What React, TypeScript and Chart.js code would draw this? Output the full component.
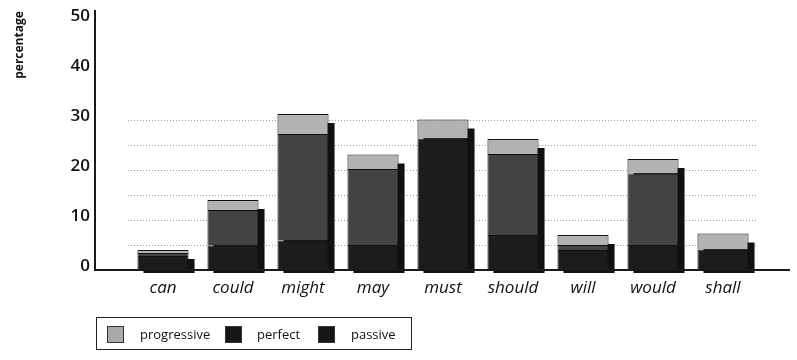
import React, { useEffect, useRef } from "react";
import { Chart, registerables } from "chart.js";

Chart.register(...registerables);

const categories = ["can", "could", "might", "may", "must", "should", "will", "would", "shall"];
const passive = [2.8, 4.9, 5.9, 5.0, 26.3, 7.0, 4.0, 5.0, 4.1];
const perfect = [0.6, 7.1, 21.3, 15.2, 0, 16.2, 1.0, 14.3, 0];
const progressive = [0.6, 2.0, 4.0, 2.9, 3.8, 3.0, 2.0, 2.9, 3.2];
const yTicks = [0, 10, 20, 30, 40, 50];
const gridSteps = [5, 10, 15, 20, 25, 30];
const yTitle = "percentage";

const colors = { progressive: "#b2b2b2", perfect: "#434343", passive: "#1c1c1c" };
const legendItems = [
  { label: "progressive", color: "#a9a9a9" },
  { label: "perfect", color: "#161616" },
  { label: "passive", color: "#161616" },
];

const FONT = "'Open Sans', 'DejaVu Sans', sans-serif";

const decorPlugin = {
  id: "decor",
  beforeDatasetsDraw(chart: any) {
    const { ctx, scales } = chart;
    const y = scales.y;
    const base = y.getPixelForValue(0);
    const n = chart.data.labels.length;
    ctx.save();
    ctx.fillStyle = "#111";
    for (let i = 0; i < n; i++) {
      let top = Infinity;
      let x = 0;
      let w = 0;
      chart.data.datasets.forEach((_: any, di: number) => {
        const el = chart.getDatasetMeta(di).data[i] as any;
        if (!el) return;
        const p = el.getProps(["x", "y", "width"], true);
        x = p.x;
        w = p.width;
        if (p.y < top) top = p.y;
      });
      ctx.fillRect(x - w / 2 + 6, top + 9, w, base + 3 - (top + 9));
    }
    ctx.restore();
  },
  afterDatasetsDraw(chart: any) {
    const { ctx, scales, chartArea } = chart;
    const y = scales.y;
    const base = y.getPixelForValue(0);
    const axisX = chartArea.left - 33;
    ctx.save();
    ctx.strokeStyle = "#1a1a1a";
    ctx.lineWidth = 2;
    ctx.beginPath();
    ctx.moveTo(axisX, chartArea.top - 10);
    ctx.lineTo(axisX, base + 1);
    ctx.moveTo(axisX - 1, base);
    ctx.lineTo(chartArea.right + 32, base);
    ctx.stroke();
    // y title
    ctx.translate(20, 45);
    ctx.rotate(-Math.PI / 2);
    ctx.fillStyle = "#111";
    ctx.font = `bold 12px ${FONT}`;
    ctx.textAlign = "center";
    ctx.textBaseline = "middle";
    ctx.fillText(yTitle, 0, 0);
    ctx.restore();
  },
};

const noPad = (s: any) => {
  s.paddingTop = 0;
  s.paddingBottom = 0;
};

export default function App() {
  const ref = useRef<HTMLCanvasElement>(null);
  useEffect(() => {
    if (!ref.current) return;
    const chart = new Chart(ref.current, {
      type: "bar",
      data: {
        labels: categories,
        datasets: [
          { label: "passive", data: passive, backgroundColor: colors.passive },
          { label: "perfect", data: perfect, backgroundColor: colors.perfect },
          { label: "progressive", data: progressive, backgroundColor: colors.progressive },
        ].map((d) => ({
          ...d,
          borderColor: "#111",
          borderWidth: 1,
          barPercentage: 0.73,
          categoryPercentage: 1,
        })),
      },
      options: {
        animation: false,
        responsive: false,
        layout: { padding: { left: 70, right: 39, top: 20, bottom: 50 } },
        plugins: { legend: { display: false }, tooltip: { enabled: false } },
        scales: {
          x: {
            stacked: true,
            border: { display: false },
            grid: { display: false, drawTicks: false },
            ticks: {
              padding: 8,
              color: "#111",
              font: { family: FONT, size: 17, style: "italic" },
            },
            afterFit: (s: any) => {
              s.height = 40;
              s.paddingLeft = 0;
              s.paddingRight = 0;
            },
          },
          y: {
            stacked: true,
            min: 0,
            max: 50,
            border: { display: false },
            grid: { display: false, drawTicks: false },
            afterBuildTicks: (s: any) => {
              s.ticks = yTicks.map((v) => ({ value: v }));
            },
            afterFit: (s: any) => {
              s.width = 58;
              noPad(s);
            },
            ticks: {
              padding: 38,
              labelOffset: -4,
              color: "#111",
              font: { family: FONT, size: 17, weight: "600" },
            },
          },
          g: {
            type: "linear",
            display: true,
            position: "right",
            min: 0,
            max: 50,
            afterBuildTicks: (s: any) => {
              s.ticks = gridSteps.map((v) => ({ value: v }));
            },
            afterFit: (s: any) => {
              s.width = 0;
              noPad(s);
            },
            ticks: { display: false },
            grid: {
              drawTicks: false,
              color: "#a0a0a0",
              lineWidth: 1,
            },
            border: { display: false, dash: [1, 2] },
          } as any,
        },
      },
      plugins: [decorPlugin],
    });
    (chart.options.scales as any).g.grid.borderDash = [1, 2];
    chart.update();
    return () => chart.destroy();
  }, []);

  return (
    <div style={{ position: "absolute", left: 0, top: 0, width: 797, height: 360, background: "#fff" }}>
      <canvas ref={ref} width={797} height={360} />
      <div
        style={{
          position: "absolute",
          left: 96,
          top: 317,
          width: 316,
          height: 33,
          boxSizing: "border-box",
          border: "1.5px solid #222",
          fontFamily: FONT,
          fontSize: 13,
          color: "#111",
        }}
      >
        {legendItems.map((it, i) => (
          <div
            key={it.label}
            style={{
              position: "absolute",
              left: [10, 128, 221][i],
              top: 7,
              display: "flex",
              alignItems: "center",
            }}
          >
            <span
              style={{
                display: "inline-block",
                width: 17,
                height: 17,
                background: it.color,
                border: "1px solid #333",
                boxSizing: "border-box",
              }}
            />
            <span style={{ marginLeft: [16, 15, 16][i] }}>{it.label}</span>
          </div>
        ))}
      </div>
    </div>
  );
}
